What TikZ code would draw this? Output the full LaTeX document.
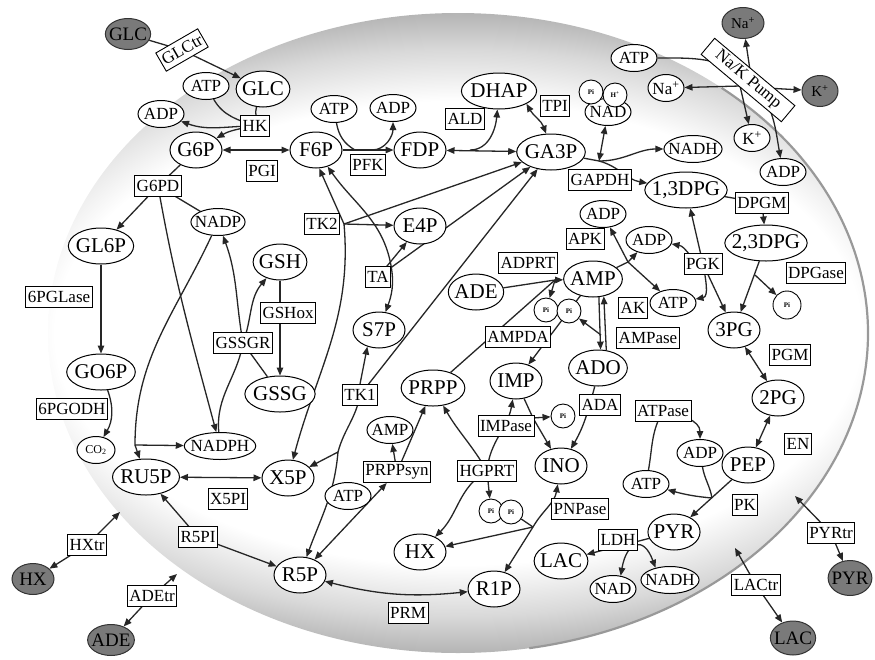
\documentclass[tikz,border=0pt]{standalone}
\usepackage{fontspec}
\setmainfont{Liberation Serif}
\usetikzlibrary{arrows.meta,shapes.geometric}
\pgfdeclarelayer{cell}
\pgfdeclarelayer{links}
\pgfsetlayers{cell,links,main}
\pgfdeclareradialshading{cellshade}{\pgfpoint{0bp}{0bp}}{color(0bp)=(white); color(18bp)=(white); color(22bp)=(black!15); color(25bp)=(black!30); color(50bp)=(black!30)}
\tikzset{
  met/.style={ellipse, draw, fill=white, line width=1pt, font=\fontsize{21}{21}\selectfont, inner xsep=-2pt, inner ysep=0pt, minimum width=52, minimum height=36},
  cof/.style={ellipse, draw, fill=white, line width=1pt, font=\fontsize{17}{17}\selectfont, inner xsep=-4pt, inner ysep=0pt, minimum width=46, minimum height=27},
  ext/.style={ellipse, draw=black!80, fill=black!52, line width=1pt, font=\fontsize{19}{19}\selectfont, inner xsep=-3pt, inner ysep=0pt, minimum width=42, minimum height=31},
  enz/.style={rectangle, draw, fill=white, line width=0.9pt, font=\fontsize{17}{17}\selectfont, inner xsep=2pt, inner ysep=3pt, minimum height=21},
  pi/.style={circle, draw, fill=white, line width=0.9pt, inner sep=0pt, minimum size=24, font=\fontsize{7}{7}\selectfont\bfseries}
}
\begin{document}
\begin{tikzpicture}[x=1pt, y=1pt, >={Triangle[length=8pt,width=6.5pt]}]
  \useasboundingbox (0,0) rectangle (875,-659);
  \begin{pgfonlayer}{cell}
    \begin{scope}
      \clip (458,-333) ellipse [x radius=410, y radius=320];
      \shade[shading=cellshade] (458,-333) ellipse [x radius=560, y radius=322];
    \end{scope}
    \draw[black!40, line width=2.2pt] (458,-333) ++(50:410 and 320) arc[start angle=50, end angle=-80, x radius=410, y radius=320];
  \end{pgfonlayer}

  % glycolysis
  \node[ext] (GLC-out) at (128,-34) {GLC};
  \node[enz, rotate=30] (GLCtr) at (182,-50) {GLCtr};
  \node[met] (GLC) at (263,-89) {GLC};
  \node[cof] (ATP-hk) at (206,-86) {ATP};
  \node[cof] (ADP-hk) at (161,-114) {ADP};
  \node[enz] (HK) at (255,-126) {HK};
  \node[met] (G6P) at (196,-150) {G6P};
  \node[enz] (PGI) at (262,-171) {PGI};
  \node[met] (F6P) at (316,-150) {F6P};
  \node[cof] (ATP-pfk) at (334,-109) {ATP};
  \node[cof] (ADP-pfk) at (393,-108) {ADP};
  \node[enz] (PFK) at (368,-165) {PFK};
  \node[met] (FDP) at (420,-150) {FDP};
  \node[enz] (ALD) at (465,-119) {ALD};
  \node[met] (DHAP) at (499,-91) {DHAP};
  \node[enz] (TPI) at (555,-106) {TPI};
  \node[met] (GA3P) at (551,-152) {GA3P};
  \node[cof] (NAD) at (608,-112) {NAD};
  \node[pi] (Pi-gap) at (591,-92) {Pi};
  \node[pi] (H-gap) at (615,-95) {H\textsuperscript{+}};
  \node[enz] (GAPDH) at (600,-180) {GAPDH};
  \node[cof] (NADH) at (693,-149) {NADH};
  \node[met, inner xsep=-5pt] (DPG13) at (686,-190) {1,3DPG};
  \node[cof] (ATP-pump) at (634,-58) {ATP};
  \node[enz, rotate=-40, inner xsep=12pt] (NaK) at (748,-80) {Na/K Pump};
  \node[cof, minimum width=36] (Na-in) at (666,-88) {Na\textsuperscript{+}};
  \node[cof, minimum width=36] (K-in) at (752,-138) {K\textsuperscript{+}};
  \node[ext, font=\fontsize{15}{15}\selectfont] (Na-out) at (743,-23) {Na\textsuperscript{+}};
  \node[ext, font=\fontsize{15}{15}\selectfont, minimum width=36] (K-out) at (820,-91) {K\textsuperscript{+}};
  \node[cof] (ADP-pump) at (783,-172) {ADP};
  \node[enz] (DPGM) at (762,-203) {DPGM};
  \node[met, inner xsep=-5pt] (DPG23) at (766,-243) {2,3DPG};
  \node[enz] (DPGase) at (816,-273) {DPGase};
  \node[pi, minimum size=28] (Pi-dpg) at (787,-305) {Pi};
  \node[enz] (PGK) at (703,-264) {PGK};
  \node[cof] (ADP-pgk) at (649,-240) {ADP};
  \node[cof] (ATP-pgk) at (673,-303) {ATP};
  \node[met] (PG3) at (734,-330) {3PG};
  \node[enz] (PGM) at (790,-355) {PGM};
  \node[met] (PG2) at (778,-398) {2PG};
  \node[enz] (EN) at (798,-444) {EN};
  \node[met] (PEP) at (748,-465) {PEP};
  \node[cof] (ADP-pk) at (700,-453) {ADP};
  \node[cof] (ATP-pk) at (646,-484) {ATP};
  \node[enz] (PK) at (745,-505) {PK};
  \node[enz] (ATPase) at (663,-411) {ATPase};
  \node[met] (PYR) at (674,-532) {PYR};
  \node[enz] (LDH) at (618,-540) {LDH};
  \node[met] (LAC) at (561,-561) {LAC};
  \node[cof] (NAD-ldh) at (613,-589) {NAD};
  \node[cof] (NADH-ldh) at (670,-580) {NADH};
  \node[enz] (PYRtr) at (831,-533) {PYRtr};
  \node[ext, minimum height=35] (PYR-out) at (850,-578) {PYR};
  \node[enz] (LACtr) at (756,-585) {LACtr};
  \node[ext, minimum height=34] (LAC-out) at (793,-638) {LAC};

  % pentose phosphate and glutathione
  \node[enz] (G6PD) at (158,-186) {G6PD};
  \node[cof] (NADP) at (218,-222) {NADP};
  \node[met] (GL6P) at (101,-246) {GL6P};
  \node[enz] (PGLase) at (59,-297) {6PGLase};
  \node[met] (GO6P) at (101,-372) {GO6P};
  \node[enz] (PGODH) at (72,-409) {6PGODH};
  \node[cof, font=\fontsize{12}{12}\selectfont, minimum width=38] (CO2) at (96,-450) {CO\textsubscript{2}};
  \node[cof] (NADPH) at (220,-446) {NADPH};
  \node[met] (RU5P) at (146,-477) {RU5P};
  \node[enz] (X5PI) at (228,-499) {X5PI};
  \node[met] (X5P) at (288,-478) {X5P};
  \node[enz] (R5PI) at (198,-537) {R5PI};
  \node[met] (R5P) at (300,-575) {R5P};
  \node[met] (GSH) at (280,-262) {GSH};
  \node[enz] (GSHox) at (288,-313) {GSHox};
  \node[enz] (GSSGR) at (243,-343) {GSSGR};
  \node[met] (GSSG) at (280,-394) {GSSG};
  \node[enz] (TK2) at (322,-224) {TK2};
  \node[met] (E4P) at (420,-226) {E4P};
  \node[enz] (TA) at (378,-277) {TA};
  \node[met] (S7P) at (379,-330) {S7P};
  \node[enz] (TK1) at (360,-395) {TK1};

  % nucleotides
  \node[met] (PRPP) at (433,-388) {PRPP};
  \node[cof] (AMP-prpp) at (390,-430) {AMP};
  \node[enz] (PRPPsyn) at (397,-472) {PRPPsyn};
  \node[cof] (ATP-prpp) at (348,-496) {ATP};
  \node[met] (ADE) at (476,-292) {ADE};
  \node[enz] (ADPRT) at (528,-263) {ADPRT};
  \node[met] (AMP) at (593,-279) {AMP};
  \node[pi] (Pi-a) at (546,-310) {Pi};
  \node[pi] (Pi-b) at (569,-311) {Pi};
  \node[enz] (AMPDA) at (518,-337) {AMPDA};
  \node[cof] (ADP-apk) at (603,-214) {ADP};
  \node[enz] (APK) at (585,-239) {APK};
  \node[enz] (AK) at (633,-308) {AK};
  \node[enz] (AMPase) at (648,-338) {AMPase};
  \node[met] (ADO) at (598,-368) {ADO};
  \node[enz] (ADA) at (600,-405) {ADA};
  \node[met] (IMP) at (516,-381) {IMP};
  \node[enz] (IMPase) at (506,-426) {IMPase};
  \node[pi] (Pi-c) at (563,-416) {Pi};
  \node[met] (INO) at (561,-466) {INO};
  \node[enz] (HGPRT) at (487,-471) {HGPRT};
  \node[pi] (Pi-d) at (491,-511) {Pi};
  \node[pi] (Pi-e) at (511,-512) {Pi};
  \node[enz] (PNPase) at (580,-509) {PNPase};
  \node[met] (HX) at (420,-552) {HX};
  \node[met] (R1P) at (494,-589) {R1P};
  \node[enz] (PRM) at (408,-613) {PRM};
  \node[enz] (HXtr) at (87,-545) {HXtr};
  \node[ext] (HX-out) at (33,-579) {HX};
  \node[enz] (ADEtr) at (152,-596) {ADEtr};
  \node[ext] (ADE-out) at (111,-640) {ADE};

  % junctions and free ends
  \coordinate (pfk-in) at (355,-150);
  \coordinate (pfk-out) at (372,-150);
  \coordinate (ald-j) at (470,-150);
  \coordinate (gap-j) at (599,-161);
  \coordinate (na-j) at (740,-86);
  \coordinate (na-j2) at (750,-70);
  \coordinate (k-j) at (766,-88);
  \coordinate (dpg-j) at (755,-275);
  \coordinate (pk-j) at (712,-498);
  \coordinate (lac-in) at (735,-548);
  \coordinate (pyr-in) at (795,-496);
  \coordinate (hx-in) at (120,-512);
  \coordinate (ade-in) at (177,-574);
  \coordinate (pgd-j) at (135,-445);
  \coordinate (tk2-j) at (344,-224);
  \coordinate (tk1-j) at (338,-452);
  \coordinate (adprt-j) at (555,-280);
  \coordinate (ampase-j) at (601,-335);
  \coordinate (ak-j) at (628,-262);
  \coordinate (imp-j) at (533,-418);
  \coordinate (pnp-j) at (533,-527);

  \begin{pgfonlayer}{links}
  \begin{scope}[line width=1.3pt, black!85]
    \draw [->] (GLC-out) -- (GLCtr.center) -- (GLC);
    \draw (ATP-hk) to[out=-60,in=160] (HK.center);
    \draw (GLC) to[out=-110,in=60] (HK.center);
    \draw [->] (HK.center) to[out=180,in=-20] (ADP-hk);
    \draw [->] (HK.center) to[out=190,in=30] (G6P);
    \draw [<->] (G6P) -- (F6P);
    \draw [->] (F6P) -- (FDP);
    \draw (ATP-pfk) to[out=-80,in=150] (pfk-in);
    \draw [->] (pfk-out) to[out=0,in=-90] (ADP-pfk);
    \draw [<->] (FDP) -- (GA3P);
    \draw [->] (ald-j) to[out=0,in=-95] (DHAP);
    \draw [<->] (DHAP.-25) to[out=-60,in=110] (GA3P.105);
    \draw (GA3P) -- (gap-j);
    \draw [<->] (NAD) -- (gap-j);
    \draw [->] (gap-j) to[out=-15,in=170] (DPG13);
    \draw [->] (gap-j) to[out=0,in=180] (NADH);
    \draw [->] (ATP-pump) to[out=0,in=140] (NaK.center) to[out=-40,in=100] (ADP-pump);
    \draw [->] (na-j) -- (Na-in);
    \draw [->] (na-j) -- (K-in);
    \draw [->] (na-j2) -- (Na-out);
    \draw [->] (k-j) -- (K-out);
    \draw [->] (DPG13) -- (DPGM.center) -- (DPG23);
    \draw [<->] (DPG13) -- (PGK.center) -- (PG3);
    \draw [<->] (ADP-pgk) to[out=-10,in=160] (PGK.center) to[out=-80,in=10] (ATP-pgk);
    \draw [->] (DPG23) -- (PG3);
    \draw [->] (dpg-j) -- (Pi-dpg);
    \draw [<->] (PG3) -- (PG2);
    \draw [<->] (PG2) -- (PEP);
    \draw [->] (PEP) -- (PYR);
    \draw (ADP-pk) to[out=-80,in=100] (pk-j);
    \draw [->] (pk-j) to[out=175,in=-15] (ATP-pk);
    \draw (ATP-pk) to[out=80,in=-120] (ATPase.center);
    \draw [->] (ATPase.center) to[out=-10,in=90] (ADP-pk);
    \draw [->] (PYR) -- (LAC);
    \draw [<->] (NAD-ldh.60) to[out=80,in=110,looseness=2.5] (NADH-ldh.140);
    \draw [<->] (lac-in) -- (LACtr.center) -- (LAC-out);
    \draw [<->] (pyr-in) -- (PYRtr.center) -- (PYR-out);
    \draw [<->] (hx-in) -- (HXtr.center) -- (HX-out);
    \draw [<->] (ade-in) -- (ADEtr.center) -- (ADE-out);

    \draw (G6P) -- (G6PD.center);
    \draw [->] (G6PD.center) -- (GL6P);
    \draw (NADP) -- (G6PD.center);
    \draw [->] (G6PD.center) to[out=-80,in=105] (NADPH);
    \draw [->] (GL6P) -- (GO6P);
    \draw [->] (GO6P) to[out=-70,in=60] (CO2);
    \draw (NADP) to[out=-115,in=90] (pgd-j);
    \draw [->] (pgd-j) -- (RU5P);
    \draw [->] (pgd-j) -- (NADPH);
    \draw (NADPH) to[out=95,in=-100] (GSSGR.center);
    \draw [->] (GSSGR.center) to[out=100,in=-70] (NADP);
    \draw [->] (GSSGR.center) to[out=70,in=-130] (GSH);
    \draw (GSSG) -- (GSSGR.center);
    \draw [->] (GSH) -- (GSSG);
    \draw [<->] (RU5P) -- (X5P);
    \draw [<->] (RU5P) -- (R5PI.center) -- (R5P);
    \draw [->] (tk2-j) -- (F6P.-80);
    \draw [->] (tk2-j) -- (E4P);
    \draw [->] (tk2-j) -- (GA3P);
    \draw [->] (tk2-j) to[out=-85,in=75] (X5P);
    \draw [<->] (F6P) to[out=-55,in=100] (TA.north east) to[out=-80,in=70] (S7P);
    \draw [->] (TA.center) -- (E4P);
    \draw [->] (TA.center) -- (GA3P);
    \draw [->] (TK1.north) -- (S7P.-125);
    \draw [->] (TK1.center) -- (GA3P);
    \draw (TK1.center) to[out=-100,in=75] (tk1-j);
    \draw [->] (tk1-j) -- (X5P);
    \draw [->] (tk1-j) to[out=-95,in=70] (R5P);

    \draw [<->] (R5P) -- (PRPPsyn);
    \draw [->] (PRPPsyn) -- (PRPP);
    \draw [->] (PRPPsyn) -- (AMP-prpp);
    \draw [->] (HGPRT.center) to[out=120,in=-60] (PRPP);
    \draw [->] (HGPRT.center) to[out=85,in=-100] (IMP);
    \draw [->] (HGPRT.center) to[out=-150,in=45] (HX);
    \draw [->] (HGPRT.center) -- (Pi-d);
    \draw (IMP) -- (imp-j);
    \draw [->] (imp-j) -- (Pi-c);
    \draw [->] (imp-j) -- (INO);
    \draw [->] (ADO.-100) to[out=-105,in=60] (INO);
    \draw [->] (pnp-j) to[out=60,in=-100] (INO);
    \draw (Pi-e) -- (pnp-j);
    \draw [->] (pnp-j) -- (HX);
    \draw [->] (pnp-j) -- (R1P);
    \draw [<->] (R5P) to[bend right=10] (R1P);
    \draw (ADE) -- (adprt-j);
    \draw [->] (adprt-j) -- (AMP);
    \draw (PRPP) -- (adprt-j);
    \draw [->] (adprt-j) -- (Pi-a);
    \draw [->] (AMP) -- (IMP);
    \draw [->] (AMP.-72) -- (ADO.82);
    \draw [->] (ADO.65) -- (AMP.-58);
    \draw [->] (ampase-j) -- (Pi-b);
    \draw (AMP) -- (ak-j);
    \draw [->] (ak-j) -- (ADP-apk);
    \draw [->] (ak-j) -- (ADP-pgk);
    \draw [->] (ak-j) -- (ATP-pgk);
  \end{scope}
  \end{pgfonlayer}
\end{tikzpicture}
\end{document}
